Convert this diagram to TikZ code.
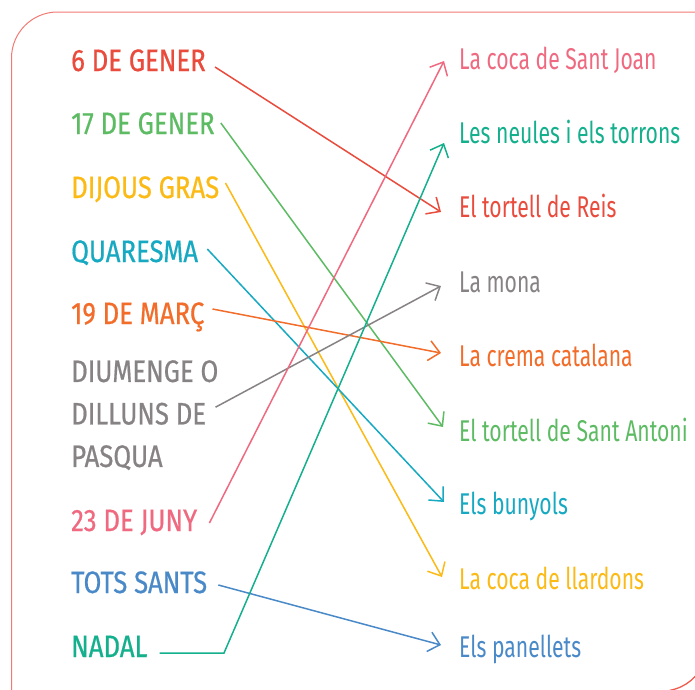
\documentclass[tikz,border=0pt]{standalone}
\usepackage{fontspec}
\newfontfamily\lfont{Fira Sans}[FakeStretch=0.83, FakeBold=0.6]
\newfontfamily\rfont{Fira Sans}[FakeStretch=0.705]
\usetikzlibrary{arrows.meta}
\definecolor{cred}{HTML}{E94B3C}
\definecolor{cgreen}{HTML}{5DBB63}
\definecolor{cyellow}{HTML}{FBBA16}
\definecolor{cteal}{HTML}{16A9C1}
\definecolor{corange}{HTML}{F26C2A}
\definecolor{cgray}{HTML}{878384}
\definecolor{cpink}{HTML}{EF6A80}
\definecolor{cblue}{HTML}{4A89C8}
\definecolor{cnadal}{HTML}{14AF8C}
\definecolor{cframe}{HTML}{F27A74}
\definecolor{carc}{HTML}{F05A4C}
\begin{document}
\begin{tikzpicture}[x=1pt,y=-1pt,
  lab/.style={anchor=base west, inner sep=0pt, font=\lfont\fontsize{31}{42.5}\selectfont},
  food/.style={anchor=base west, inner sep=0pt, font=\rfont\fontsize{30}{36}\selectfont},
  conn/.style={line width=1.5pt, -{Straight Barb[length=11pt,width=20pt,line width=1.5pt]}}]
\useasboundingbox (0,0) rectangle (695,689);
\clip (0,0) rectangle (695,689);
% frame
\draw[cframe, line width=1pt, rounded corners=46pt] (11.5,720) -- (11.5,12) -- (720,12);
\draw[carc, line width=1.3pt] (669.8,690.3) .. controls (685.7,687.5) and (698.8,676.5) .. (704.3,661.4);
% left labels
\node[lab, text=cred]    (l1) at (71,71)  {6 DE GENER};
\node[lab, text=cgreen]  (l2) at (71,134) {17 DE GENER};
\node[lab, text=cyellow] (l3) at (71,198) {DIJOUS GRAS};
\node[lab, text=cteal]   (l4) at (71,262) {QUARESMA};
\node[lab, text=corange] (l5) at (71,324) {19 DE MARÇ};
\node[lab, text=cgray, anchor=north west, align=left] (l6) at (71,360) {DIUMENGE O\\DILLUNS DE\\PASQUA};
\node[lab, text=cpink]   (l7) at (71,531) {23 DE JUNY};
\node[lab, text=cblue]   (l8) at (71,593) {TOTS SANTS};
\node[lab, text=cnadal]  (l9) at (71,657) {NADAL};
% right labels
\node[food, text=cpink]   (r1) at (459,69)  {La coca de Sant Joan};
\node[food, text=cnadal]  (r2) at (459,143) {Les neules i els torrons};
\node[food, text=cred]    (r3) at (459,217) {El tortell de Reis};
\node[food, text=cgray]   (r4) at (459,292) {La mona};
\node[food, text=corange] (r5) at (459,366) {La crema catalana};
\node[food, text=cgreen]  (r6) at (459,441) {El tortell de Sant Antoni};
\node[food, text=cteal]   (r7) at (459,514) {Els bunyols};
\node[food, text=cyellow] (r8) at (459,589) {La coca de llardons};
\node[food, text=cblue]   (r9) at (459,657) {Els panellets};
% connectors
\draw[conn, cred]    ([shift={(9,-4)}]l1.base east) -- ([shift={(-18,-5)}]r3.base west);
\draw[conn, cgreen]  ([shift={(6,-11)}]l2.base east) -- ([shift={(-16,-14)}]r6.base west);
\draw[conn, cyellow] ([shift={(6,-15)}]l3.base east) -- ([shift={(-17,-12)}]r8.base west);
\draw[conn, cteal]   ([shift={(9,-13)}]l4.base east) -- ([shift={(-15,-12)}]r7.base west);
\draw[conn, corange] ([shift={(8,-15)}]l5.base east) -- ([shift={(-18,-13)}]r5.base west);
\draw[conn, cgray]   ([shift={(-3,-8)}]l6.east) -- ([shift={(-18,-6)}]r4.base west);
\draw[conn, cpink]   ([shift={(12,-8)}]l7.base east) -- ([shift={(-15,-8)}]r1.base west);
\draw[conn, cblue]   ([shift={(11,-8)}]l8.base east) -- ([shift={(-18,-12)}]r9.base west);
\coordinate (bend) at (224,653);
\draw[conn, cnadal]  ([shift={(12,-4)}]l9.base east) -- (bend) -- ([shift={(-15,0)}]r2.base west);
\end{tikzpicture}
\end{document}
